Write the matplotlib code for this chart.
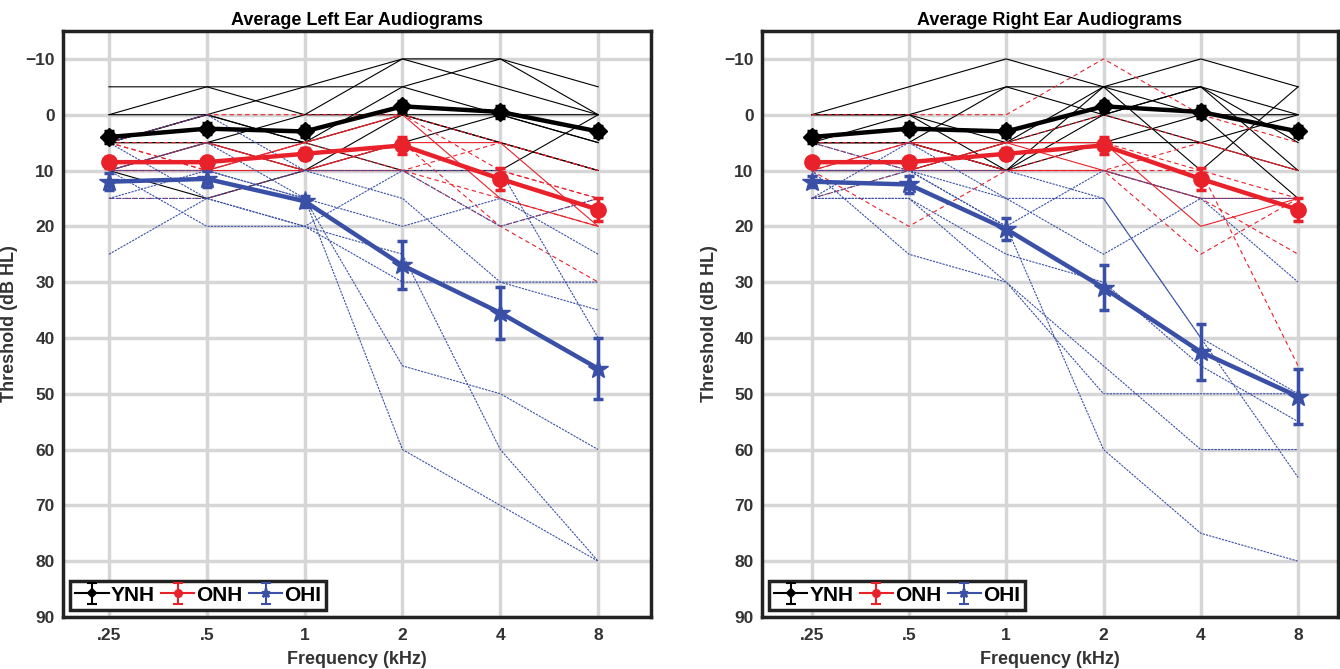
import matplotlib
matplotlib.use("Agg")
import matplotlib.pyplot as plt
from matplotlib.legend_handler import HandlerErrorbar
import numpy as np

plt.rcParams['font.family'] = ['Liberation Sans', 'DejaVu Sans']
plt.rcParams['font.weight'] = 'bold'

freq_labels = [".25", ".5", "1", "2", "4", "8"]
y_ticks = [-10, 0, 10, 20, 30, 40, 50, 60, 70, 80, 90]

# ---- Left ear: individual thresholds (dB HL) ----
left_ynh = [
    [-5, -5, -5, -10, -10, -5],
    [0, -5, 0, -10, -5, 0],
    [0, 0, -5, -5, 0, 5],
    [5, 0, 5, -5, -10, 0],
    [5, 5, 0, 0, 5, 10],
    [5, 5, 5, 0, 0, 5],
    [10, 15, 10, 5, 0, 0],
    [10, 5, 10, 0, 5, 10],
    [5, 0, 5, 10, 10, 0],
]
left_onh = [
    [5, 0, 0, 0, 5, 10],
    [5, 10, 5, 0, 10, 15],
    [10, 5, 10, 5, 5, 20],
    [10, 10, 5, 10, 15, 20],
    [15, 15, 10, 5, 20, 30],
    [5, 10, 10, 10, 10, 15],
    [10, 10, 5, 0, 15, 20],
    [5, 5, 10, 10, 5, 10],
    [10, 10, 10, 10, 20, 15],
]
left_ohi = [
    [10, 5, 15, 60, 70, 80],
    [15, 10, 15, 45, 50, 60],
    [25, 15, 20, 25, 60, 80],
    [10, 20, 20, 30, 30, 35],
    [5, 0, 10, 15, 30, 30],
    [10, 10, 15, 20, 15, 25],
    [15, 15, 10, 10, 20, 15],
    [5, 15, 20, 10, 10, 40],
]

# ---- Right ear: individual thresholds (dB HL) ----
right_ynh = [
    [0, -5, -10, -5, -10, -5],
    [0, 0, -5, -5, -5, 0],
    [5, 5, -5, 0, -5, 5],
    [5, 0, 5, 0, -5, 10],
    [5, 5, 5, -5, 0, 0],
    [5, 5, 10, 0, 5, 10],
    [10, 10, 5, 5, 0, 15],
    [0, 0, 10, -5, 10, -5],
    [5, 5, 10, 5, 5, 0],
]
right_onh = [
    [0, 0, 0, -10, 0, 5],
    [5, 10, 5, 0, 5, 10],
    [10, 5, 5, 10, 15, 15],
    [10, 20, 10, 10, 15, 25],
    [15, 10, 10, 5, 10, 45],
    [5, 5, 10, 10, 10, 15],
    [10, 10, 5, 5, 20, 15],
    [10, 5, 10, 10, 5, 10],
    [10, 10, 10, 10, 25, 15],
]
right_ohi = [
    [10, 10, 20, 60, 75, 80],
    [15, 15, 30, 50, 50, 50],
    [10, 25, 30, 45, 60, 60],
    [15, 15, 25, 30, 45, 55],
    [5, 10, 15, 25, 15, 30],
    [15, 10, 10, 15, 40, 50],
    [10, 10, 20, 10, 15, 15],
    [15, 5, 15, 15, 40, 65],
]

# ---- Group means and standard errors ----
left_ynh_mean = [4, 2.5, 3, -1.5, -0.5, 3]
left_ynh_err = [1, 1, 1, 1, 1, 1]
left_onh_mean = [8.5, 8.5, 7, 5.5, 11.5, 17]
left_onh_err = [1, 1, 1, 1.5, 2, 2]
left_ohi_mean = [12, 11.5, 15.5, 27, 35.5, 45.5]
left_ohi_err = [1.5, 1.5, 1, 4.3, 4.7, 5.5]

right_ynh_mean = [4, 2.5, 3, -1.5, -0.5, 3]
right_ynh_err = [1, 1, 1, 1, 1, 1]
right_onh_mean = [8.5, 8.5, 7, 5.5, 11.5, 17]
right_onh_err = [0.6, 1, 1, 1.5, 2, 2]
right_ohi_mean = [12, 12.5, 20.5, 31, 42.5, 50.5]
right_ohi_err = [1, 1.5, 2, 4, 5, 5]

BLACK = "#000000"
RED = "#e8212b"
BLUE = "#3a50a6"

fig = plt.figure(figsize=(13.4, 6.69), dpi=100)
ax_l = fig.add_axes([63 / 1340, 52 / 669, 588 / 1340, 586 / 669])
ax_r = fig.add_axes([762 / 1340, 52 / 669, 576 / 1340, 586 / 669])


def thin_legend_artist(legend_artist, orig):
    # legend keys use thinner strokes than the plotted mean curves
    legend_artist.update_from(orig)
    if hasattr(legend_artist, "set_linewidth"):
        legend_artist.set_linewidth(1.5)
    if hasattr(legend_artist, "set_markeredgewidth"):
        legend_artist.set_markeredgewidth(1.5)


def draw_panel(ax, title, ynh, onh, ohi, means, errs, xlim, ylab_x):
    x = np.arange(len(freq_labels))
    for s in ynh:
        ax.plot(x, s, color=BLACK, lw=0.8, zorder=2)
    for i, s in enumerate(onh):
        ls = '-' if i in (2, 6) else (0, (4, 3))
        ax.plot(x, s, color=RED, lw=0.8, ls=ls, zorder=2)
    for s in ohi:
        ax.plot(x, s, color=BLUE, lw=0.8, ls=(0, (2, 1)), zorder=2)

    styles = [
        ("YNH", BLACK, 'D', 9),
        ("ONH", RED, 'o', 11),
        ("OHI", BLUE, '*', 15),
    ]
    for (lab, col, mk, ms), m, e in zip(styles, means, errs):
        ax.errorbar(x, m, yerr=e, color=col, lw=3.2, marker=mk, ms=ms,
                    elinewidth=2.5, capsize=3.5, capthick=2.5, label=lab,
                    zorder=5)

    ax.set_xlim(*xlim)
    ax.set_ylim(90, -15)
    ax.set_xticks(x)
    ax.set_xticklabels(freq_labels)
    ax.set_yticks(y_ticks)
    ax.set_yticklabels(["\u221210" if v == -10 else str(v) for v in y_ticks])
    ax.tick_params(axis='x', length=0, labelsize=12.5, pad=8)
    ax.tick_params(axis='y', length=0, labelsize=12.5, pad=6)
    for lbl in ax.get_xticklabels() + ax.get_yticklabels():
        lbl.set_fontweight('bold')
        lbl.set_color('#333333')
    ax.grid(True, color='#d6d6d6', lw=2.5, zorder=0)
    ax.set_axisbelow(True)
    for sp in ax.spines.values():
        sp.set_linewidth(2.5)
        sp.set_color('#222222')
    ax.set_title(title, fontsize=13, fontweight='bold', pad=4)
    ax.set_xlabel("Frequency (kHz)", fontsize=13, fontweight='bold',
                  color='#333333', labelpad=6)
    ax.set_ylabel("Threshold (dB HL)", fontsize=13, fontweight='bold',
                  color='#333333')
    ax.yaxis.set_label_coords(ylab_x, 0.5)
    handles, labels = ax.get_legend_handles_labels()
    hmap = {h: HandlerErrorbar(update_func=thin_legend_artist) for h in handles}
    leg = ax.legend(handles, labels, handler_map=hmap,
                    loc='lower left', ncol=3, handlelength=1.6,
                    handletextpad=0.1, columnspacing=0.3, borderpad=0.25,
                    borderaxespad=0, markerscale=0.45, fancybox=False,
                    framealpha=1, edgecolor='#222222',
                    prop={'weight': 'bold', 'size': 15},
                    bbox_to_anchor=(0.012, 0.012))
    leg.get_frame().set_linewidth(2.5)


draw_panel(ax_l, "Average Left Ear Audiograms", left_ynh, left_onh, left_ohi,
           [left_ynh_mean, left_onh_mean, left_ohi_mean],
           [left_ynh_err, left_onh_err, left_ohi_err], (-0.47, 5.54), -0.077)
draw_panel(ax_r, "Average Right Ear Audiograms", right_ynh, right_onh, right_ohi,
           [right_ynh_mean, right_onh_mean, right_ohi_mean],
           [right_ynh_err, right_onh_err, right_ohi_err], (-0.51, 5.41), -0.077)

fig.savefig("out.png", dpi=100, facecolor='white')
